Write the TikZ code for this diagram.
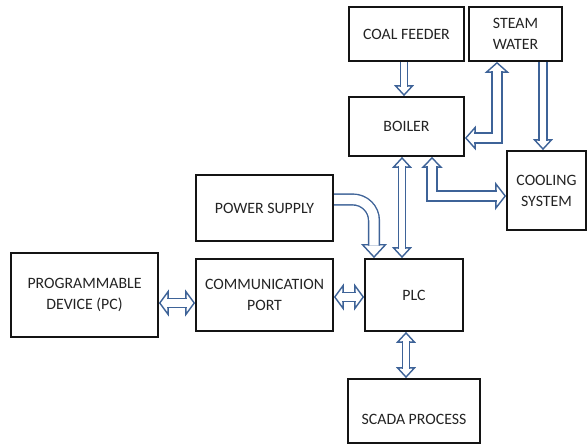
\documentclass[tikz,border=0pt]{standalone}
\usepackage{fontspec}
\setmainfont{Carlito}
\usetikzlibrary{arrows.meta,calc,backgrounds}
\definecolor{PipeClr}{RGB}{62,99,152}
\definecolor{BoxClr}{RGB}{20,20,20}
\definecolor{TextClr}{RGB}{35,35,35}

\begin{document}
\begin{tikzpicture}[x=0.03cm,y=-0.03cm,
  box/.style={draw=BoxClr,line width=1.5pt,inner sep=2pt,align=center,text=TextClr,
    font=\fontsize{13.5}{18}\selectfont},
  pipe/.style={draw=PipeClr,line width=1.2pt,double=white,double distance=#1},
  pipe/.default=6pt,
  head/.style 2 args={draw=PipeClr,line width=1.2pt,-{Triangle[length=#1,width=#2,fill=white]}}]
\useasboundingbox (0,0) rectangle (587,446);

\node[box,minimum width=3.45cm,minimum height=1.62cm] (coal) at (406.5,34) {COAL FEEDER};
\node[box,minimum width=2.79cm,minimum height=1.62cm] (steam) at (515.5,34) {STEAM\\WATER};
\node[box,minimum width=3.45cm,minimum height=1.77cm] (boiler) at (406.5,126.5) {BOILER};
\node[box,minimum width=2.37cm,minimum height=2.37cm] (cooling) at (546.5,190.5) {COOLING\\SYSTEM};
\node[box,minimum width=4.11cm,minimum height=1.98cm] (power) at (264.5,208) {POWER SUPPLY};
\node[box,minimum width=4.11cm,minimum height=2.16cm] (comm) at (264.5,295) {COMMUNICATION\\PORT};
\node[box,minimum width=2.94cm,minimum height=2.16cm] (plc) at (414,295) {PLC};
\node[box,minimum width=4.41cm,minimum height=2.52cm] (pc) at (84.5,295) {PROGRAMMABLE\\DEVICE (PC)};
\node[box,minimum width=3.96cm,minimum height=1.92cm,text height=23pt,text depth=0pt] (scada) at (414,411) {SCADA PROCESS};

\begin{scope}[on background layer]
\draw[head={9.4pt}{17pt}] ($(boiler.north)+(-2.5,-11)$) -- ($(boiler.north)+(-2.5,0)$);
\draw[pipe=4.5pt] ($(coal.south)+(-2.5,0)$) -- ($(boiler.north)+(-2.5,-9.5)$);

\draw[head={9.4pt}{21pt}] ($(steam.south)+(-18.5,11)$) -- ($(steam.south)+(-18.5,0)$);
\draw[head={9.4pt}{21pt}] ($(boiler.east)+(11,11.5)$) -- ($(boiler.east)+(0,11.5)$);
\draw[pipe=7pt] ($(steam.south)+(-18.5,9.5)$) |- ($(boiler.east)+(9.5,11.5)$);

\draw[head={9.4pt}{17pt}] ($(cooling.north)+(-3.5,-11)$) -- ($(cooling.north)+(-3.5,0)$);
\draw[pipe=5.5pt] ($(steam.south)+(27.5,0)$) -- ($(cooling.north)+(-3.5,-9.5)$);

\draw[head={9.4pt}{18pt}] ($(boiler.south)+(25.5,11)$) -- ($(boiler.south)+(25.5,0)$);
\draw[head={9.4pt}{24pt}] ($(cooling.west)+(-11,5.5)$) -- ($(cooling.west)+(0,5.5)$);
\draw[pipe=7pt] ($(boiler.south)+(25.5,9.5)$) |- ($(cooling.west)+(-9.5,5.5)$);

\draw[head={9.4pt}{17pt}] ($(boiler.south)+(-4.5,11)$) -- ($(boiler.south)+(-4.5,0)$);
\draw[head={9.4pt}{17pt}] ($(plc.north)+(-12,-11)$) -- ($(plc.north)+(-12,0)$);
\draw[pipe=5pt] ($(boiler.south)+(-4.5,9.5)$) -- ($(plc.north)+(-12,-9.5)$);

\draw[head={12pt}{22pt}] ($(plc.north)+(-40,-14)$) -- ($(plc.north)+(-40,0)$);
\draw[pipe=8pt,rounded corners=18pt] ($(power.east)+(0,-8.5)$) -| ($(plc.north)+(-40,-12.5)$);

\draw[head={8.5pt}{23pt}] ($(comm.east)+(10,2)$) -- ($(comm.east)+(0,2)$);
\draw[head={8.5pt}{23pt}] ($(plc.west)+(-10,2)$) -- ($(plc.west)+(0,2)$);
\draw[pipe=6pt] ($(comm.east)+(8.5,2)$) -- ($(plc.west)+(-8.5,2)$);

\draw[head={8.5pt}{23pt}] ($(pc.east)+(10,8)$) -- ($(pc.east)+(0,8)$);
\draw[head={8.5pt}{23pt}] ($(comm.west)+(-10,8)$) -- ($(comm.west)+(0,8)$);
\draw[pipe=6pt] ($(pc.east)+(8.5,8)$) -- ($(comm.west)+(-8.5,8)$);

\draw[head={9.4pt}{17pt}] ($(plc.south)+(-8,11)$) -- ($(plc.south)+(-8,0)$);
\draw[head={9.4pt}{17pt}] ($(scada.north)+(-8,-11)$) -- ($(scada.north)+(-8,0)$);
\draw[pipe=5pt] ($(plc.south)+(-8,9.5)$) -- ($(scada.north)+(-8,-9.5)$);
\end{scope}

\end{tikzpicture}
\end{document}
